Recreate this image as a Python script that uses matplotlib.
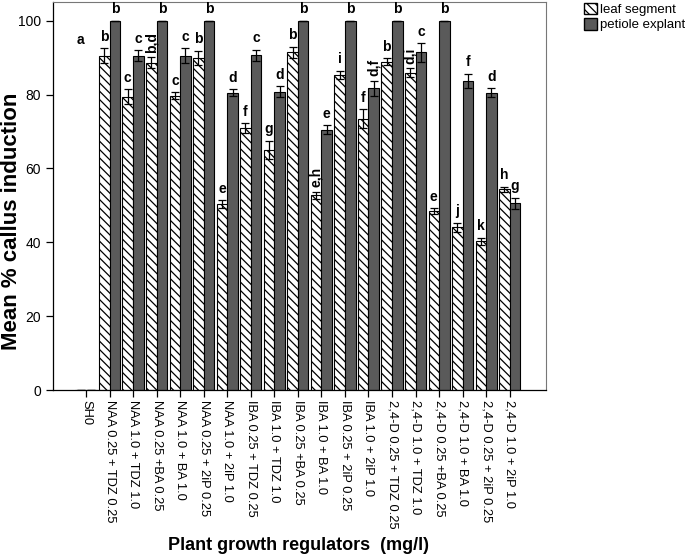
import numpy as np
import matplotlib
matplotlib.use("Agg")
from matplotlib import pyplot as plt
from matplotlib.patches import Patch

plt.rcParams['font.family'] = ['Liberation Sans', 'DejaVu Sans']
plt.rcParams['hatch.linewidth'] = 0.9

treatments = ["SH0", "NAA 0.25 + TDZ 0.25", "NAA 1.0 + TDZ 1.0", "NAA 0.25 +BA 0.25",
              "NAA 1.0 + BA 1.0", "NAA 0.25 + 2iP 0.25", "NAA 1.0 + 2iP 1.0",
              "IBA 0.25 + TDZ 0.25", "IBA 1.0 + TDZ 1.0", "IBA 0.25 +BA 0.25",
              "IBA 1.0 + BA 1.0", "IBA 0.25 + 2iP 0.25", "IBA 1.0 + 2iP 1.0",
              "2,4-D 0.25 + TDZ 0.25", "2,4-D 1.0 + TDZ 1.0", "2,4-D 0.25 +BA 0.25",
              "2,4-D 1.0 + BA 1.0", "2,4-D 0.25 + 2iP 0.25", "2,4-D 1.0 + 2iP 1.0"]

leaf = [0, 90.5, 79.4, 88.6, 79.7, 89.9, 50.4, 70.9, 65.0, 91.4,
        52.7, 85.3, 73.5, 88.9, 85.9, 48.4, 44.1, 40.3, 54.3]
leaf_err = [0, 2.0, 2.0, 1.5, 1.0, 2.0, 1.0, 1.3, 2.5, 1.5,
            1.0, 1.2, 2.5, 1.0, 1.2, 0.8, 1.2, 1.0, 0.8]
petiole = [0, 100, 90.5, 100, 90.5, 100, 80.5, 90.7, 80.8, 100,
           70.5, 100, 81.7, 100, 91.4, 100, 83.7, 80.5, 50.6]
petiole_err = [0, 0, 1.5, 0, 2.0, 0, 1.0, 1.5, 1.5, 0,
               1.2, 0, 2.0, 0, 2.5, 0, 2.0, 1.2, 1.5]

leaf_letters = ["a", "b", "c", "b,d", "c", "b", "e", "f", "g", "b",
                "e,h", "i", "f", "b", "d,i", "e", "j", "k", "h"]
petiole_letters = ["", "b", "c", "b", "c", "b", "d", "c", "d", "b",
                   "e", "b", "d,f", "b", "c", "b", "f", "d", "g"]

dark = "#5a5a5a"
w = 0.45

fig = plt.figure(figsize=(6.85, 5.58), dpi=100)
ax = fig.add_axes([0.0774, 0.301, 0.72, 0.695])

x = np.arange(len(treatments))
ax.bar(x - w / 2, leaf, w, color="white", edgecolor="black", hatch="\\\\\\\\",
       linewidth=0.8, yerr=leaf_err, error_kw=dict(ecolor="black", elinewidth=0.9, capsize=3, capthick=0.9))
ax.bar(x + w / 2, petiole, w, color=dark, edgecolor="black",
       linewidth=0.8, yerr=petiole_err, error_kw=dict(ecolor="black", elinewidth=0.9, capsize=3, capthick=0.9))

# significance letters
for i in range(len(treatments)):
    for xpos, val, err, lab in [(x[i] - w / 2, leaf[i], leaf_err[i], leaf_letters[i]),
                                (x[i] + w / 2, petiole[i], petiole_err[i], petiole_letters[i])]:
        if not lab:
            continue
        y = val + err + 1.2
        if i == 0:
            y = 93
        rot = 90 if "," in lab else 0
        ax.text(xpos, y, lab, ha="center", va="bottom", rotation=rot,
                fontsize=10, fontweight="bold")

ax.set_xlim(-1.4, 19.55)
ax.set_ylim(0, 105)
ax.set_yticks([0, 20, 40, 60, 80, 100])
ax.tick_params(axis="y", labelsize=10, length=5, width=0.9)
ax.set_xticks(x)
ax.set_xticklabels(treatments, rotation=270, fontsize=9.3)
ax.tick_params(axis="x", length=5, width=0.9, pad=2)
for s in ["top", "right"]:
    ax.spines[s].set_color("#777777")
    ax.spines[s].set_linewidth(0.8)
for s in ["left", "bottom"]:
    ax.spines[s].set_linewidth(0.9)

fig.text(12 / 685, 1 - 221 / 558, "Mean % callus induction", fontsize=16,
         fontweight="bold", rotation=90, ha="center", va="center")
fig.text(299 / 685, 1 - 546 / 558, "Plant growth regulators  (mg/l)", fontsize=13,
         fontweight="bold", ha="center", va="center")

handles = [Patch(facecolor="white", edgecolor="black", hatch="\\\\\\\\", label="leaf segment"),
           Patch(facecolor=dark, edgecolor="black", label="petiole explant")]
fig.legend(handles=handles, loc="upper left", bbox_to_anchor=(0.848, 1.0), frameon=False,
           fontsize=9.5, handlelength=1.0, handleheight=1.0, handletextpad=0.25,
           labelspacing=0.15, borderpad=0.2, borderaxespad=0.0)

fig.savefig("out.png", dpi=100)
